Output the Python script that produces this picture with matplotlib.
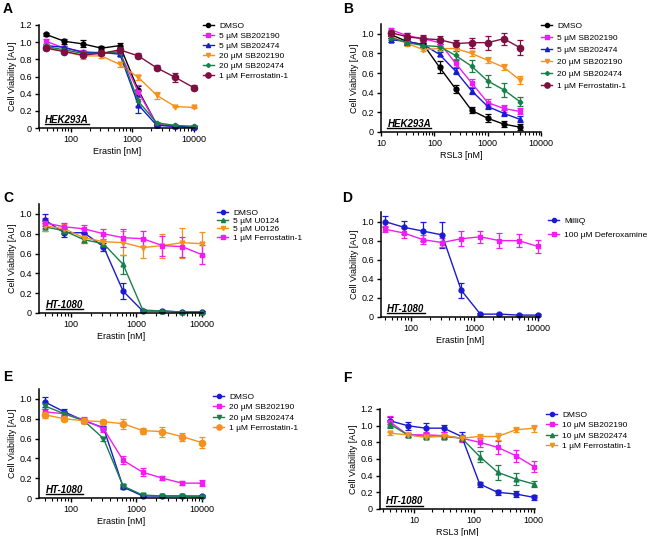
import matplotlib
matplotlib.use("Agg")
import matplotlib.pyplot as plt
from matplotlib.lines import Line2D
from matplotlib.ticker import FuncFormatter, LogLocator, NullFormatter

plt.rcParams['font.family'] = ['Liberation Sans', 'DejaVu Sans']
plt.rcParams['font.size'] = 6.5

# concentrations (nM)
erastin = [39, 78, 156, 312, 625, 1250, 2500, 5000, 10000]
rsl3_b = [15.6, 31.25, 62.5, 125, 250, 500, 1000, 2000, 4000]
rsl3_f = [3.9, 7.8, 15.6, 31.25, 62.5, 125, 250, 500, 1000]

# colours
BLACK = '#000000'
MAGENTA = '#f21cf2'
BLUE = '#1a1ad0'
ORANGE = '#f5921e'
GREEN = '#17804a'
MAROON = '#7d1040'

# panel A: HEK293A, erastin
a_labels = ['DMSO', '5 µM SB202190', '5 µM SB202474', '20 µM SB202190', '20 µM SB202474', '1 µM Ferrostatin-1']
a_vals = [
    [1.09, 1.01, 0.98, 0.93, 0.96, 0.44, 0.04, 0.02, 0.01],
    [1.01, 0.93, 0.89, 0.87, 0.88, 0.42, 0.04, 0.02, 0.01],
    [0.96, 0.94, 0.88, 0.88, 0.86, 0.27, 0.03, 0.02, 0.01],
    [0.94, 0.89, 0.84, 0.84, 0.74, 0.59, 0.38, 0.25, 0.24],
    [0.95, 0.91, 0.87, 0.87, 0.89, 0.31, 0.06, 0.03, 0.02],
    [0.93, 0.89, 0.85, 0.87, 0.91, 0.84, 0.70, 0.59, 0.47],
]
a_err = [
    [.02, .03, .04, .02, .03, .05, .01, .01, .01],
    [.03, .03, .02, .02, .03, .08, .01, .01, .01],
    [.02, .02, .02, .02, .02, .10, .01, .01, .01],
    [.02, .02, .04, .03, .03, .03, .04, .01, .01],
    [.02, .02, .02, .02, .02, .05, .01, .01, .01],
    [.02, .02, .02, .02, .02, .03, .03, .05, .03],
]

# panel B: HEK293A, RSL3
b_labels = a_labels
b_vals = [
    [0.99, 0.92, 0.89, 0.66, 0.44, 0.22, 0.14, 0.08, 0.05],
    [1.04, 0.98, 0.95, 0.91, 0.70, 0.50, 0.30, 0.24, 0.21],
    [0.94, 0.92, 0.89, 0.79, 0.62, 0.42, 0.26, 0.19, 0.13],
    [0.97, 0.90, 0.84, 0.85, 0.85, 0.80, 0.73, 0.66, 0.53],
    [0.96, 0.91, 0.88, 0.87, 0.78, 0.67, 0.52, 0.43, 0.31],
    [1.01, 0.97, 0.95, 0.94, 0.90, 0.91, 0.91, 0.95, 0.86],
]
b_err = [
    [.03, .03, .02, .06, .04, .03, .04, .03, .03],
    [.02, .03, .03, .03, .04, .04, .04, .04, .03],
    [.02, .02, .02, .02, .03, .03, .03, .03, .03],
    [.02, .02, .02, .02, .03, .03, .03, .03, .04],
    [.02, .02, .02, .03, .05, .06, .06, .07, .05],
    [.03, .04, .04, .04, .04, .05, .07, .06, .08],
]

# panel C: HT-1080, erastin, MEK inhibitors
c_labels = ['DMSO', '5 µM U0124', '5 µM U0126', '1 µM Ferrostatin-1']
c_vals = [
    [0.94, 0.81, 0.81, 0.67, 0.22, 0.02, 0.02, 0.01, 0.01],
    [0.87, 0.83, 0.74, 0.70, 0.49, 0.03, 0.02, 0.01, 0.01],
    [0.88, 0.85, 0.76, 0.72, 0.71, 0.66, 0.68, 0.71, 0.70],
    [0.91, 0.87, 0.85, 0.80, 0.76, 0.75, 0.68, 0.67, 0.59],
]
c_err = [
    [.06, .04, .04, .04, .08, .01, .01, .01, .01],
    [.04, .03, .03, .03, .10, .01, .01, .01, .01],
    [.05, .05, .05, .06, .12, .10, .12, .15, .12],
    [.05, .04, .04, .05, .09, .08, .10, .10, .10],
]

# panel D: HT-1080, erastin, deferoxamine
d_labels = ['MilliQ', '100 µM Deferoxamine']
d_vals = [
    [1.00, 0.94, 0.90, 0.86, 0.28, 0.03, 0.03, 0.02, 0.02],
    [0.92, 0.88, 0.81, 0.78, 0.82, 0.84, 0.80, 0.80, 0.74],
]
d_err = [
    [.06, .07, .10, .14, .08, .01, .01, .01, .01],
    [.03, .05, .05, .05, .08, .06, .08, .07, .07],
]

# panel E: HT-1080, erastin, p38 inhibitors
e_labels = ['DMSO', '20 µM SB202190', '20 µM SB202474', '1 µM Ferrostatin-1']
e_vals = [
    [0.97, 0.87, 0.78, 0.71, 0.11, 0.02, 0.02, 0.02, 0.02],
    [0.87, 0.85, 0.79, 0.70, 0.38, 0.26, 0.20, 0.15, 0.15],
    [0.93, 0.85, 0.78, 0.60, 0.12, 0.03, 0.02, 0.02, 0.01],
    [0.84, 0.80, 0.78, 0.77, 0.75, 0.68, 0.67, 0.62, 0.56],
]
e_err = [
    [.05, .03, .02, .02, .02, .01, .01, .01, .01],
    [.03, .02, .03, .03, .04, .04, .02, .02, .03],
    [.03, .02, .02, .02, .02, .01, .01, .01, .01],
    [.03, .02, .02, .02, .05, .03, .05, .04, .06],
]

# panel F: HT-1080, RSL3
f_labels = ['DMSO', '10 µM SB202190', '10 µM SB202474', '1 µM Ferrostatin-1']
f_vals = [
    [1.06, 1.00, 0.97, 0.97, 0.87, 0.30, 0.20, 0.18, 0.14],
    [1.05, 0.89, 0.89, 0.88, 0.85, 0.80, 0.74, 0.64, 0.51],
    [1.02, 0.89, 0.87, 0.87, 0.85, 0.63, 0.44, 0.36, 0.30],
    [0.91, 0.89, 0.86, 0.88, 0.85, 0.87, 0.87, 0.95, 0.97],
]
f_err = [
    [.04, .05, .06, .04, .05, .03, .03, .04, .03],
    [.07, .02, .03, .04, .04, .05, .08, .07, .07],
    [.05, .02, .02, .02, .03, .07, .09, .07, .04],
    [.02, .02, .02, .02, .02, .03, .04, .03, .04],
]

styles_ab = [(BLACK, 'o', 3.5), (MAGENTA, 's', 3.5), (BLUE, '^', 3.5),
             (ORANGE, 'v', 3.5), (GREEN, 'P', 3.0), (MAROON, 'o', 4.5)]
styles_c = [(BLUE, 'o', 3.5), (GREEN, '^', 3.5), (ORANGE, 'v', 3.5), (MAGENTA, 's', 3.5)]
styles_d = [(BLUE, 'o', 3.5), (MAGENTA, 's', 3.5)]
styles_e = [(BLUE, 'o', 3.5), (MAGENTA, 's', 3.5), (GREEN, 'v', 3.5), (ORANGE, 'o', 4.5)]
styles_f = [(BLUE, 'o', 3.5), (MAGENTA, 's', 3.5), (GREEN, '^', 3.5), (ORANGE, 'v', 3.5)]

fig = plt.figure(figsize=(6.49, 5.36), dpi=100)
W, H = 649, 536

yfmt = FuncFormatter(lambda v, p: '0' if abs(v) < 1e-9 else f'{v:.1f}')
xfmt = FuncFormatter(lambda v, p: f'{v:g}')


def rect(l, r, b, t):
    return [l / W, 1 - b / H, (r - l) / W, (b - t) / H]


def panel(rect, x, vals, errs, labels, styles, xlim, ymax, yticks, xlabel,
          cell, letter, letter_pos, leg_anchor, leg_space):
    ax = fig.add_axes(rect)
    handles = []
    for v, e, lab, (c, m, ms) in zip(vals, errs, labels, styles):
        ax.errorbar(x, v, yerr=e, color=c, marker=m, ms=ms, lw=1.0,
                    elinewidth=0.9, capsize=2.2, capthick=0.9, clip_on=False)
        handles.append(Line2D([], [], color=c, marker=m, ms=ms * 0.85, lw=1.0, label=lab))
    ax.set_xscale('log')
    ax.set_xlim(*xlim)
    ax.set_ylim(0, ymax)
    ax.set_yticks(yticks)
    ax.yaxis.set_major_formatter(yfmt)
    ax.xaxis.set_major_locator(LogLocator(base=10))
    ax.xaxis.set_minor_locator(LogLocator(base=10, subs=range(2, 10)))
    ax.xaxis.set_major_formatter(xfmt)
    ax.xaxis.set_minor_formatter(NullFormatter())
    for s in ['top', 'right']:
        ax.spines[s].set_visible(False)
    for s in ['left', 'bottom']:
        ax.spines[s].set_linewidth(1.1)
    ax.tick_params(which='major', direction='out', length=3, width=1.0, pad=2)
    ax.tick_params(which='minor', direction='out', length=2, width=0.8)
    ax.set_xlabel(xlabel, labelpad=2)
    ax.set_ylabel('Cell Viability [AU]', labelpad=2)
    t = ax.text(0.04, 0.05, cell, transform=ax.transAxes, fontsize=7,
                fontweight='bold', fontstyle='italic')
    ax.legend(handles=handles, loc='upper left', bbox_to_anchor=leg_anchor,
              frameon=False, handlelength=1.35, handletextpad=0.6,
              labelspacing=leg_space, borderaxespad=0, borderpad=0,
              fontsize=6.0)
    fig.text(letter_pos[0] / W, 1 - letter_pos[1] / H, letter, fontsize=10,
             fontweight='bold', va='baseline')
    return ax, t


panels = [
    panel(rect(39, 195, 128, 25), erastin, a_vals, a_err, a_labels, styles_ab,
          (30, 10500), 1.2, [0, .2, .4, .6, .8, 1.0, 1.2], 'Erastin [nM]',
          'HEK293A', 'A', (3, 13), (1.05, 1.03), 0.27),
    panel(rect(381, 541, 132, 24), rsl3_b, b_vals, b_err, b_labels, styles_ab,
          (10, 10000), 1.1, [0, .2, .4, .6, .8, 1.0], 'RSL3 [nM]',
          'HEK293A', 'B', (343, 13), (1.0, 1.02), 0.51),
    panel(rect(39, 203, 313, 204), erastin, c_vals, c_err, c_labels, styles_c,
          (32, 10500), 1.1, [0, .2, .4, .6, .8, 1.0], 'Erastin [nM]',
          'HT-1080', 'C', (3, 202), (1.085, 0.955), 0.06),
    panel(rect(381, 539, 317, 212), erastin, d_vals, d_err, d_labels, styles_d,
          (34, 10500), 1.1, [0, .2, .4, .6, .8, 1.0], 'Erastin [nM]',
          'HT-1080', 'D', (342, 202), (1.057, 0.953), 0.8),
    panel(rect(39, 203, 498, 389), erastin, e_vals, e_err, e_labels, styles_e,
          (32, 10500), 1.1, [0, .2, .4, .6, .8, 1.0], 'Erastin [nM]',
          'HT-1080', 'E', (3, 381), (1.061, 0.964), 0.32),
    panel(rect(380, 535, 509, 409), rsl3_f, f_vals, f_err, f_labels, styles_f,
          (2.7, 1050), 1.2, [0, .2, .4, .6, .8, 1.0, 1.2], 'RSL3 [nM]',
          'HT-1080', 'F', (343, 382), (1.071, 0.98), 0.32),
]

# underline the cell line labels
fig.canvas.draw()
renderer = fig.canvas.get_renderer()
inv = fig.transFigure.inverted()
for ax, t in panels:
    bb = t.get_window_extent(renderer)
    (x0, y0), (x1, _) = inv.transform([[bb.x0, bb.y0], [bb.x1, bb.y1]])
    fig.add_artist(Line2D([x0, x1], [y0 + 0.5 / H, y0 + 0.5 / H],
                          transform=fig.transFigure, color='black', lw=1.0))

fig.savefig('out.png', dpi=100)
